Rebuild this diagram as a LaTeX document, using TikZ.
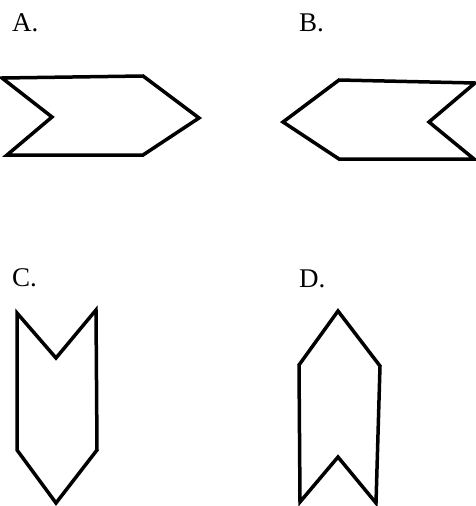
\documentclass[tikz,border=0pt]{standalone}
\usepackage{fontspec}
\setmainfont{Liberation Serif}
\usetikzlibrary{positioning}
\tikzset{
  lbl/.style={anchor=base west,inner sep=0pt,font=\fontsize{27}{29}\selectfont},
  outline/.style={draw=black,line width=3.5pt,line join=miter},
}
\begin{document}
\begin{tikzpicture}[x=1pt,y=-1pt]
  \useasboundingbox (0,0) rectangle (476,506);
  % labels
  \node[lbl] (la) at (12,31) {A.};
  \node[lbl] (lb) at (299,31) {B.};
  \node[lbl] (lc) at (12,286) {C.};
  \node[lbl] (ld) at (299,287) {D.};
  % A: arrow pointing right
  \draw[outline] (2,78) -- (143,76) -- (199,118) -- (143,155) -- (7,155) -- (52,117) -- cycle;
  % B: arrow pointing left
  \draw[outline] (283,122) -- (339,80) -- (475,83) -- (429,122) -- (474,159) -- (339,159) -- cycle;
  % C: arrow pointing down
  \draw[outline] (17,313) -- (56,358) -- (96,310) -- (97,450) -- (56,503) -- (17,450) -- cycle;
  % D: arrow pointing up
  \draw[outline] (338,311) -- (380,366) -- (376,503) -- (338,457) -- (300,502) -- (299,365) -- cycle;
\end{tikzpicture}
\end{document}
